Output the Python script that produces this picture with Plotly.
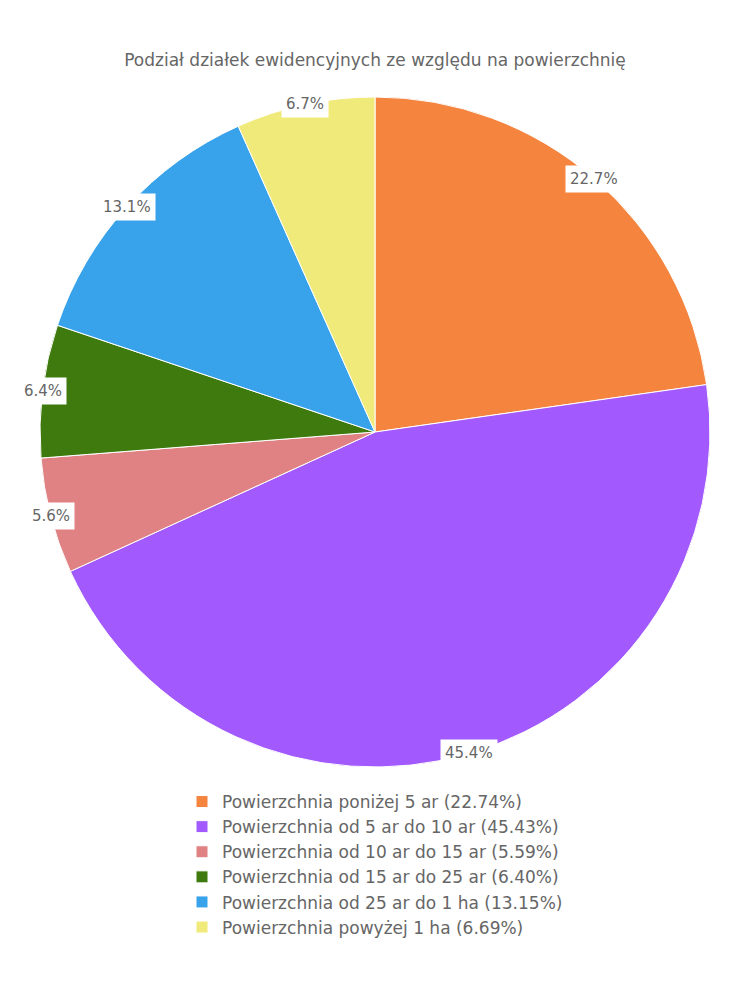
import math
import plotly.graph_objects as go

title = "Podział działek ewidencyjnych ze względu na powierzchnię"
categories = [
    "Powierzchnia poniżej 5 ar",
    "Powierzchnia od 5 ar do 10 ar",
    "Powierzchnia od 10 ar do 15 ar",
    "Powierzchnia od 15 ar do 25 ar",
    "Powierzchnia od 25 ar do 1 ha",
    "Powierzchnia powyżej 1 ha",
]
percents = [22.74, 45.43, 5.59, 6.40, 13.149, 6.69]
colors = ["#F5843F", "#A25AFE", "#E08283", "#3E7A0D", "#38A3EB", "#F0EA7B"]

W, H = 750, 1000
OFF = 8  # page body margin of the html output
cx, cy, R = 375 - OFF, 432 - OFF, 335
font_family = "DejaVu Sans, Verdana, sans-serif"
grey = "#666666"

legend_labels = [f"{c} ({p:.2f}%)" for c, p in zip(categories, percents)]

fig = go.Figure()
fig.add_trace(go.Pie(
    labels=legend_labels,
    values=percents,
    sort=False,
    direction="clockwise",
    rotation=0,
    marker=dict(colors=colors, line=dict(color="white", width=1)),
    textinfo="none",
    hoverinfo="label",
    domain=dict(x=[(cx - R) / W, (cx + R) / W], y=[1 - (cy + R) / H, 1 - (cy - R) / H]),
))

# value labels at the outer edge of each slice
total = sum(percents)
cum = 0.0
for p in percents:
    mid = (cum + p / 2) / total * 2 * math.pi
    cum += p
    px = cx + R * math.sin(mid)
    py = cy - R * math.cos(mid)
    fig.add_annotation(
        x=px / W, y=1 - py / H, xref="paper", yref="paper",
        text=f"{p:.1f}%", showarrow=False,
        font=dict(family=font_family, size=15, color=grey),
        bgcolor="white", borderpad=4,
        xanchor="center", yanchor="middle",
    )

fig.update_layout(
    width=W, height=H,
    margin=dict(l=0, r=0, t=0, b=0),
    paper_bgcolor="white",
    plot_bgcolor="white",
    title=dict(text=title, x=(375 - OFF) / W, xanchor="center", y=1 - (60 - OFF) / H, yanchor="middle",
               font=dict(family=font_family, size=17, color=grey)),
    legend=dict(x=(375 - OFF) / W, xanchor="center", y=1 - (784 - OFF) / H, yanchor="top",
                font=dict(family=font_family, size=17, color=grey),
                orientation="v", bgcolor="rgba(0,0,0,0)"),
    showlegend=True,
)

fig.write_html("out.html")
